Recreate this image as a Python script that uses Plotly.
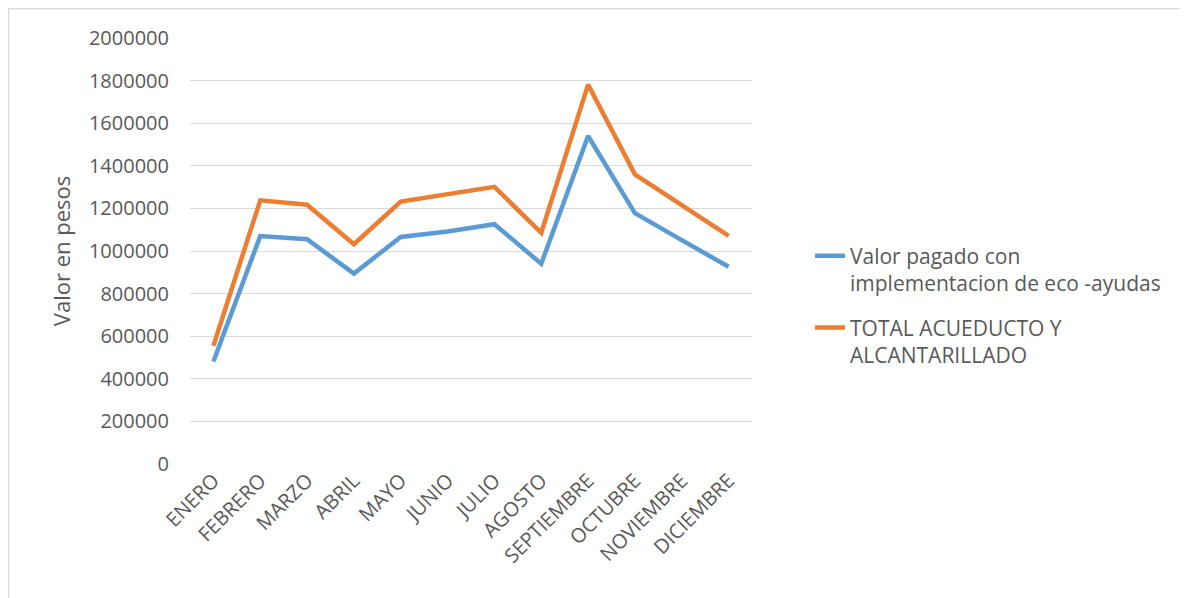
import plotly.graph_objects as go

meses = ["ENERO", "FEBRERO", "MARZO", "ABRIL", "MAYO", "JUNIO", "JULIO",
         "AGOSTO", "SEPTIEMBRE", "OCTUBRE", "NOVIEMBRE", "DICIEMBRE"]
valor_eco = [481000, 1070000, 1055000, 894000, 1066000, 1092000, 1126000,
             940000, 1540000, 1178000, 1051000, 926000]
total_acueducto = [555000, 1238000, 1217000, 1032000, 1232000, 1264000, 1301000,
                   1085000, 1781000, 1360000, 1214000, 1071000]
y_ticks = [0, 200000, 400000, 600000, 800000, 1000000, 1200000, 1400000,
           1600000, 1800000, 2000000]

FONT = "Open Sans"
GRAY = "#595959"

# page offset of 8px (browser body margin) is compensated in the margins
L, T, PW, PH = 182, 30, 562, 426
W, H = 1188, 598

fig = go.Figure()
fig.add_trace(go.Scatter(
    x=meses, y=valor_eco, mode="lines", legendgroup="a",
    name="Valor pagado con<br>implementacion de eco -ayudas",
    line=dict(color="#5b9bd5", width=4.5)))
fig.add_trace(go.Scatter(
    x=meses, y=total_acueducto, mode="lines", legendgroup="b",
    name="TOTAL ACUEDUCTO Y<br>ALCANTARILLADO",
    line=dict(color="#ed7d31", width=4.5)))

fig.update_layout(
    width=W, height=H,
    margin=dict(l=L, r=W - L - PW, t=T, b=H - T - PH),
    paper_bgcolor="white", plot_bgcolor="white",
    font=dict(family=FONT, color=GRAY, size=20),
    showlegend=True,
    legend=dict(x=(802 - L) / PW, y=0.536, xanchor="left", yanchor="top",
                font=dict(family=FONT, size=21, color=GRAY),
                valign="top", tracegroupgap=14,
                bgcolor="rgba(0,0,0,0)"),
    xaxis=dict(range=[-0.5, 11.5], tickangle=-45, showgrid=False,
               showline=False, ticks="", zeroline=False,
               tickfont=dict(family=FONT, size=20, color=GRAY)),
    yaxis=dict(range=[0, 2000000], tickvals=y_ticks,
               ticktext=[str(v) for v in y_ticks],
               showgrid=True, gridcolor="#d9d9d9", gridwidth=1,
               zeroline=False, showline=False, ticks="",
               ticklabelstandoff=20,
               tickfont=dict(family=FONT, size=20, color=GRAY),
               title=dict(text="Valor en pesos", standoff=12,
                          font=dict(family=FONT, size=22, color=GRAY))),
    shapes=[dict(type="rect", xref="paper", yref="paper",
                 x0=(0.5 - L) / PW, x1=(1179 - L) / PW,
                 y0=(T + PH - 640) / PH, y1=(T + PH - 0.5) / PH,
                 line=dict(color="#d9d9d9", width=1.5), layer="below")],
)

fig.write_html("out.html")
